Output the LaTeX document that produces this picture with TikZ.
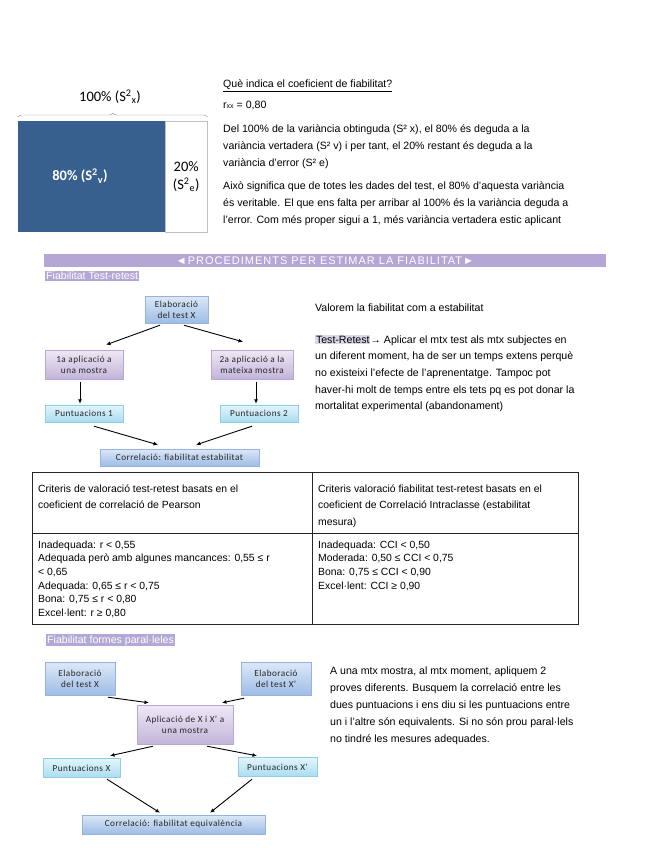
\documentclass[tikz,border=0pt]{standalone}
\usepackage{fontspec}
\setmainfont{Liberation Sans}
\newfontfamily\calib{Carlito}
\usepackage{xcolor}
\usetikzlibrary{arrows.meta,calc,decorations.pathreplacing}
\definecolor{rectblue}{HTML}{37608F}
\definecolor{barpurple}{HTML}{B4A7D6}
\definecolor{hlpurple}{HTML}{DDD7EC}
\definecolor{bluetop}{HTML}{DCE8F7}
\definecolor{bluebot}{HTML}{9DBCE6}
\definecolor{blueline}{HTML}{95B3DC}
\definecolor{purpletop}{HTML}{EEE8F5}
\definecolor{purplebot}{HTML}{C3B4DA}
\definecolor{purpleline}{HTML}{B8A8D0}
\definecolor{cyantop}{HTML}{E3F5FB}
\definecolor{cyanbot}{HTML}{A9DDF0}
\definecolor{cyanline}{HTML}{8FCDE3}
\setlength{\fboxsep}{0.8pt}
\newcommand{\bodyfont}{\fontsize{10.6}{17}\selectfont}
\newcommand{\tabfont}{\fontsize{10.4}{13.7}\selectfont}
\begin{document}
\begin{tikzpicture}[x=1pt,y=-1pt,
  >=Latex,
  every node/.style={inner sep=0pt},
  flow/.style={-{Latex[length=4.5pt,width=4pt]},line width=0.9pt},
  para/.style={anchor=base west,align=left,font=\bodyfont},
  cell/.style={anchor=base west,align=left,font=\tabfont},
  fbox/.style={align=center,font=\calib\addfontfeature{LetterSpace=5}\fontsize{9.2}{11}\selectfont,
    text=black!85,inner sep=1pt},
  bluebox/.style={fbox,draw=blueline,top color=bluetop,bottom color=bluebot},
  purplebox/.style={fbox,draw=purpleline,top color=purpletop,bottom color=purplebot},
  cyanbox/.style={fbox,draw=cyanline,top color=cyantop,bottom color=cyanbot}
]
\useasboundingbox[fill=white] (0,0) rectangle (655,848);

% variance split
\node[fill=rectblue,minimum width=147,minimum height=111,anchor=north west] (vtrue) at (18,121) {};
\node[font=\calib\bfseries\fontsize{14.5}{16}\selectfont,text=white] (vtruelbl) at (80,176)
  {80\% (S\textsuperscript{2}\textsubscript{v})};
\node[draw=black!25,minimum width=42,minimum height=111,anchor=north west,align=center,
  font=\calib\fontsize{14.5}{18}\selectfont] (verr) at (165,121)
  {20\%\\(S\textsuperscript{2}\textsubscript{e})};
\draw[black!45,decorate,decoration={brace,amplitude=4pt}]
  ($(vtrue.north west)+(0,-4)$) -- ($(verr.north east)+(0,-4)$);
\node[font=\calib\fontsize{14.5}{16}\selectfont] (vtotal) at (110,97)
  {100\% (S\textsuperscript{2}\textsubscript{x})};

\node[para] (qtitle) at (223,88) {\underline{Què indica el coeficient de fiabilitat?}};
\node[para] (rxx) at (223,109) {r{\fontsize{7}{8}\selectfont xx} = 0,80};
\node[para] (para1) at (223,166)
  {Del 100\% de la variància obtinguda (S² x), el 80\% és deguda a la\\
   variància vertadera (S² v) i per tant, el 20\% restant és deguda a la\\
   variància d’error (S² e)};
\node[para] (para2) at (223,223)
  {Això significa que de totes les dades del test, el 80\% d’aquesta variància\\
   és veritable. El que ens falta per arribar al 100\% és la variància deguda a\\
   l’error. Com més proper sigui a 1, més variància vertadera estic aplicant};

% procediments
\node[fill=barpurple,minimum width=562,minimum height=13,text=white,
  font=\addfontfeature{LetterSpace=9}\fontsize{11}{12}\selectfont] (bar) at (325,260.5)
  {◄PROCEDIMENTS PER ESTIMAR LA FIABILITAT►};
\node[fill=barpurple,text=white,inner sep=1pt,anchor=base west,font=\bodyfont] (sec1) at (45,279.5)
  {Fiabilitat Test-retest};

% test-retest flow
\node[bluebox,minimum width=63,minimum height=27] (elab) at (176.5,309.5) {Elaboració\\del test X};
\node[purplebox,minimum width=78,minimum height=29] (apl1) at (84,364.5) {1a aplicació a\\una mostra};
\node[purplebox,minimum width=82,minimum height=29] (apl2) at (252,364.5) {2a aplicació a la\\mateixa mostra};
\node[cyanbox,minimum width=78,minimum height=17] (punt1) at (84,413.5) {Puntuacions 1};
\node[cyanbox,minimum width=78,minimum height=17] (punt2) at (259,413.5) {Puntuacions 2};
\node[bluebox,minimum width=159,minimum height=17] (corr) at (179.5,457.5) {Correlació: fiabilitat estabilitat};

\draw[flow] ($(elab.south)+(-16.5,2)$) -- ($(apl1.north)+(22,-5)$);
\draw[flow] ($(elab.south)+(7.5,2)$) -- ($(apl2.north)+(-9,-8)$);
\draw[flow] ($(apl1.south)+(-4,3)$) -- ($(punt1.north)+(-4,-1)$);
\draw[flow] ($(apl2.south)+(4,3)$) -- ($(punt2.north)+(-3,-1)$);
\draw[flow] ($(punt1.south)+(10,4)$) -- ($(corr.north)+(-21.5,-4)$);
\draw[flow] ($(punt2.south)+(-7,4)$) -- ($(corr.north)+(16.5,-4)$);

\node[para] (valorem) at (315,311) {Valorem la fiabilitat com a estabilitat};
\node[para,font=\fontsize{10.6}{16.7}\selectfont] (trtext) at (315,409.8)
  {\colorbox{hlpurple}{Test-Retest}→ Aplicar el mtx test als mtx subjectes en\\
   un diferent moment, ha de ser un temps extens perquè\\
   no existeixi l’efecte de l’aprenentatge. Tampoc pot\\
   haver-hi molt de temps entre els tets pq es pot donar la\\
   mortalitat experimental (abandonament)};

% criteria table
\draw[black!85,line width=0.8pt] (32,472) rectangle (578,624);
\draw[black!85,line width=0.8pt] (312,472) -- (312,624);
\draw[black!85,line width=0.8pt] (32,533) -- (578,533);
\node[cell,font=\fontsize{10.4}{16.5}\selectfont] (hpear) at (38,508.5)
  {Criteris de valoració test-retest basats en el\\coeficient de correlació de Pearson};
\node[cell,font=\fontsize{10.4}{16.5}\selectfont] (hcci) at (318,525)
  {Criteris valoració fiabilitat test-retest basats en el\\coeficient de Correlació Intraclasse (estabilitat\\mesura)};
\node[cell] (bpear) at (38,616.5)
  {Inadequada: r < 0,55\\Adequada però amb algunes mancances: 0,55 ≤ r\\< 0,65\\Adequada: 0,65 ≤ r < 0,75\\Bona: 0,75 ≤ r < 0,80\\Excel·lent: r ≥ 0,80};
\node[cell] (bcci) at (318,589.1)
  {Inadequada: CCI < 0,50\\Moderada: 0,50 ≤ CCI < 0,75\\Bona: 0,75 ≤ CCI < 0,90\\Excel·lent: CCI ≥ 0,90};

% formes paral.leles
\node[fill=barpurple,text=white,inner sep=1pt,anchor=base west,font=\bodyfont] (sec2) at (46,643)
  {Fiabilitat formes paral·leles};

\node[bluebox,minimum width=70,minimum height=33] (elabx) at (80,679) {Elaboració\\del test X};
\node[bluebox,minimum width=70,minimum height=33] (elabxp) at (276,679) {Elaboració\\del test X’};
\node[purplebox,minimum width=96,minimum height=39] (aplxx) at (185,725) {Aplicació de X i X’ a\\una mostra};
\node[cyanbox,minimum width=77,minimum height=19] (puntx) at (81.5,768) {Puntuacions X};
\node[cyanbox,minimum width=79,minimum height=19] (puntxp) at (277.5,767) {Puntuacions X’};
\node[bluebox,minimum width=183,minimum height=19] (corrx) at (173.5,824.5) {Correlació: fiabilitat equivalència};

\draw[flow] ($(elabx.south)+(28,1.5)$) -- ($(aplxx.north)+(-36,-2.5)$);
\draw[flow] ($(elabxp.south)+(-32,2.5)$) -- ($(aplxx.north)+(37,-2.5)$);
\draw[flow] ($(aplxx.south)+(-32,1.5)$) -- ($(puntx.north)+(28.5,-2.5)$);
\draw[flow] ($(aplxx.south)+(22,1.5)$) -- ($(puntxp.north)+(-20.5,-1.5)$);
\draw[flow] ($(puntx.south)+(25.5,1.5)$) -- ($(corrx.north)+(-13.5,-2)$);
\draw[flow] ($(puntxp.south)+(-25.5,2.5)$) -- ($(corrx.north)+(36.5,-2)$);

\node[para,font=\fontsize{10.6}{17.2}\selectfont] (fptext) at (330,742.8)
  {A una mtx mostra, al mtx moment, apliquem 2\\
   proves diferents. Busquem la correlació entre les\\
   dues puntuacions i ens diu si les puntuacions entre\\
   un i l’altre són equivalents. Si no són prou paral·lels\\
   no tindré les mesures adequades.};
\end{tikzpicture}
\end{document}
